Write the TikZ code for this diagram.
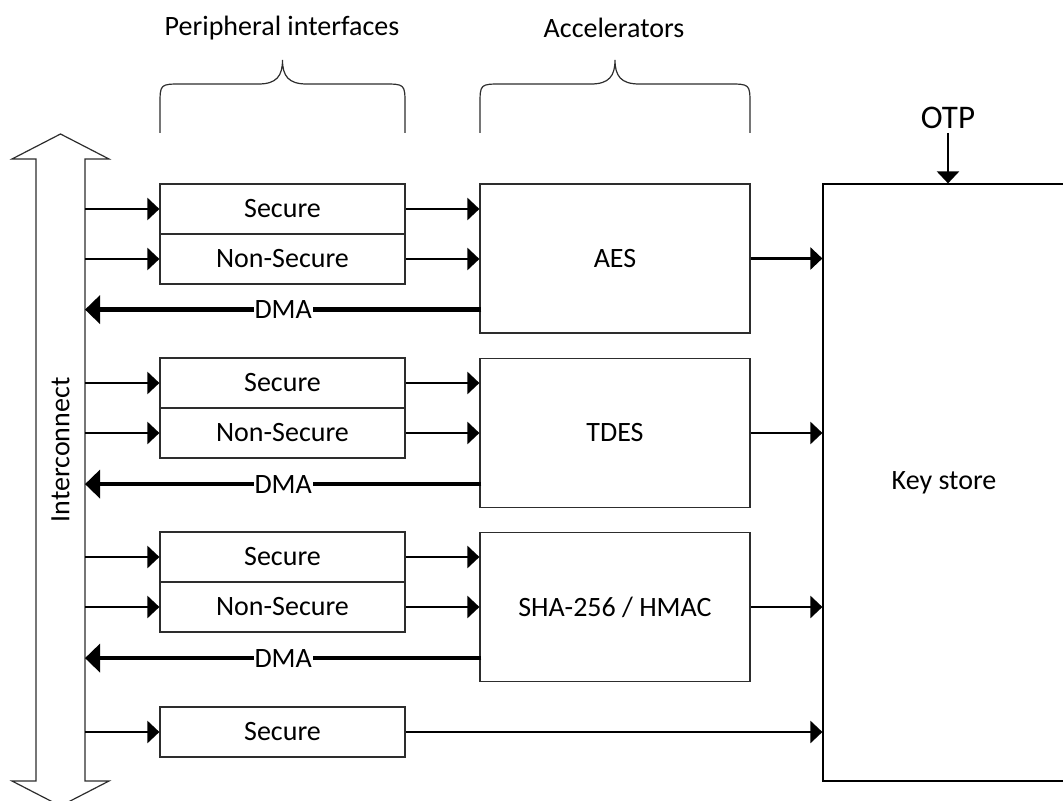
\documentclass[tikz,border=0pt]{standalone}
\usepackage{fontspec}
\setmainfont{Carlito}
\usetikzlibrary{arrows.meta}
\definecolor{boxgray}{RGB}{45,45,45}
\newcommand{\txt}{\fontsize{14}{16}\selectfont}
\newcommand{\bigtxt}{\fontsize{16.5}{19}\selectfont}
% curly brace over a column of blocks: left x, right x
\newcommand{\topbrace}[2]{%
  \draw[bracestyle] (#1,133) -- (#1,105) .. controls (#1,84) .. ({#1+22},84)
    -- ({(#1+#2)/2-24},84) .. controls ({(#1+#2)/2-6},84) and ({(#1+#2)/2},76) .. ({(#1+#2)/2},60)
    .. controls ({(#1+#2)/2},76) and ({(#1+#2)/2+6},84) .. ({(#1+#2)/2+24},84)
    -- ({#2-22},84) .. controls (#2,84) .. (#2,105) -- (#2,133);}
\tikzset{
  % blocks
  periph/.style   = {draw=boxgray, line width=0.6pt, minimum width=122.5pt,
                     minimum height=25pt, inner sep=0pt, font=\txt},
  accel/.style    = {draw=boxgray, line width=0.6pt, minimum width=135pt,
                     minimum height=74.5pt, inner sep=0pt, font=\txt},
  store/.style    = {draw=black, line width=0.6pt, minimum width=126pt,
                     minimum height=298.5pt, inner sep=0pt},
  % connectors
  conn/.style     = {-{Triangle[length=6pt,width=11pt]}, line width=1.2pt},
  dma/.style      = {-{Triangle[length=7.5pt,width=14pt]}, line width=2.2pt},
  dmalbl/.style   = {fill=white, inner sep=0.5pt, font=\txt},
  bracestyle/.style = {line width=0.6pt, draw=boxgray},
  busstyle/.style = {line width=0.6pt, draw=boxgray, fill=white},
  lab/.style      = {font=\txt, inner sep=0pt},
}
\begin{document}
\begin{tikzpicture}[x=0.5pt, y=-0.5pt]
  \useasboundingbox (0,0) rectangle (1063,801);
  % Interconnect bus
  \draw[busstyle] (36,159) -- (12,159) -- (60.5,134) -- (109,159) -- (85,159)
    -- (85,781) -- (109,781) -- (60.5,806) -- (12,781) -- (36,781) -- cycle;
  \coordinate (busR) at (85,0);
  \node[lab, rotate=90] (icon) at (60.5,450) {Interconnect};
  % Braces and headings
  \topbrace{160}{405}
  \topbrace{480}{750}
  \node[lab] (hperiph) at (282,28) {Peripheral interfaces};
  \node[lab] (haccel) at (614,28) {Accelerators};
  % Key store and OTP
  \node[store] (key) at (949,482.5) {};
  \node[lab] (keylbl) at (944,483) {Key store};
  \node[font=\bigtxt, inner sep=0pt] (otp) at (948,118) {OTP};
  \draw[conn] ([yshift=-7.5pt]otp.center) -- (otp.center |- key.north);
  % Group 1
  \node[periph] (sec1) at (282.5,209) {Secure};
  \node[periph] (non1) at (282.5,259) {Non-Secure};
  \node[accel] (aes) at (615,258.5) {AES};
  \draw[conn] (busR |- sec1.west) -- (sec1.west);
  \draw[conn] (busR |- non1.west) -- (non1.west);
  \draw[conn] (sec1.east) -- (sec1.east -| aes.west);
  \draw[conn] (non1.east) -- (non1.east -| aes.west);
  \draw[conn] (aes.east) -- (aes.east -| key.west);
  \coordinate (dma1) at ([xshift=1pt,yshift=12pt]aes.south west);
  \draw[dma] (dma1) -- (dma1 -| busR) node[midway, dmalbl] {DMA};
  % Group 2
  \node[periph] (sec2) at (282.5,383) {Secure};
  \node[periph] (non2) at (282.5,433) {Non-Secure};
  \node[accel] (tdes) at (615,433) {TDES};
  \draw[conn] (busR |- sec2.west) -- (sec2.west);
  \draw[conn] (busR |- non2.west) -- (non2.west);
  \draw[conn] (sec2.east) -- (sec2.east -| tdes.west);
  \draw[conn] (non2.east) -- (non2.east -| tdes.west);
  \draw[conn] (tdes.east) -- (tdes.east -| key.west);
  \coordinate (dma2) at ([xshift=1pt,yshift=12pt]tdes.south west);
  \draw[dma] (dma2) -- (dma2 -| busR) node[midway, dmalbl] {DMA};
  % Group 3
  \node[periph] (sec3) at (282.5,557) {Secure};
  \node[periph] (non3) at (282.5,607) {Non-Secure};
  \node[accel] (sha) at (615,607) {SHA-256 / HMAC};
  \draw[conn] (busR |- sec3.west) -- (sec3.west);
  \draw[conn] (busR |- non3.west) -- (non3.west);
  \draw[conn] (sec3.east) -- (sec3.east -| sha.west);
  \draw[conn] (non3.east) -- (non3.east -| sha.west);
  \draw[conn] (sha.east) -- (sha.east -| key.west);
  \coordinate (dma3) at ([xshift=1pt,yshift=12pt]sha.south west);
  \draw[dma] (dma3) -- (dma3 -| busR) node[midway, dmalbl] {DMA};
  % Group 4
  \node[periph] (sec4) at (282.5,732) {Secure};
  \draw[conn] (busR |- sec4.west) -- (sec4.west);
  \draw[conn] (sec4.east) -- (sec4.east -| key.west);
\end{tikzpicture}
\end{document}
